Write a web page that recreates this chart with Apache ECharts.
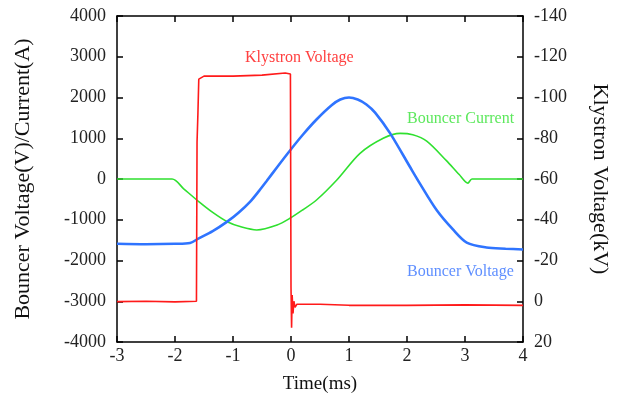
<!DOCTYPE html>
<html>
<head>
<meta charset="utf-8">
<script src="https://cdn.jsdelivr.net/npm/echarts@6/dist/echarts.min.js"></script>
<style>
  html, body { margin: 0; padding: 0; background: #fff; }
  #main { width: 621px; height: 403px; }
</style>
</head>
<body>
<div id="main"></div>
<script>
// Bouncer voltage (V), [time ms, value]
var bouncerVoltage = [
  [-3, -1590], [-2.5, -1600], [-2, -1590], [-1.74, -1570], [-1.59, -1456],
  [-1.35, -1280], [-1.1, -1047], [-0.9, -820], [-0.707, -560], [-0.55, -290],
  [-0.42, -50], [-0.24, 290], [-0.017, 700], [0.2, 1080], [0.44, 1460],
  [0.7, 1810], [0.85, 1950], [1.0, 2000], [1.15, 1950], [1.3, 1830],
  [1.45, 1630], [1.71, 1120], [2.05, 300], [2.22, -106], [2.51, -760],
  [2.8, -1250], [3.03, -1560], [3.37, -1680], [3.7, -1710], [4, -1730]
];

// Bouncer current (A), [time ms, value]
var bouncerCurrent = [
  [-3, 0], [-2.05, 0], [-1.85, -240], [-1.59, -555], [-1.35, -820],
  [-1.1, -1047], [-0.85, -1180], [-0.59, -1250], [-0.24, -1130],
  [-0.017, -964], [0.2, -760], [0.44, -515], [0.79, -24], [1.19, 630],
  [1.59, 1000], [1.88, 1120], [2.1, 1085], [2.34, 930], [2.68, 450],
  [2.9, 110], [3.05, -100], [3.12, 0], [4, 0]
];

// Klystron voltage (kV), [time ms, value]
var klystronVoltage = [
  [-3, 0.2], [-2.5, 0], [-2, 0.3], [-1.63, 0], [-1.62, -78], [-1.605, -92],
  [-1.59, -109], [-1.5, -110.5], [-1, -110.5], [-0.5, -111], [-0.1, -112],
  [-0.01, -111.5], [0.0, -7], [0.01, 13], [0.02, -3], [0.035, 6],
  [0.05, 0], [0.07, 3], [0.1, 1.5], [0.5, 1.5], [1, 2], [2, 2],
  [3, 1.8], [4, 2]
];

var serif = 'Liberation Serif';
var chart = echarts.init(document.getElementById('main'));

var axisLine = { show: true, onZero: false, lineStyle: { color: '#000', width: 1.5 } };
var axisTick = { show: true, inside: true, length: 6, lineStyle: { color: '#000', width: 1.5 } };
var tickFont = { fontFamily: serif, fontSize: 18, color: '#222' };

var option = {
  backgroundColor: '#fff',
  animation: false,
  grid: { left: 117, right: 98, top: 16, bottom: 61 },
  xAxis: [
    {
      type: 'value', min: -3, max: 4, interval: 1,
      name: 'Time(ms)', nameLocation: 'middle', nameGap: 33,
      nameTextStyle: { fontFamily: serif, fontSize: 19, color: '#111' },
      axisLine: axisLine, axisTick: axisTick, splitLine: { show: false },
      axisLabel: Object.assign({ margin: 5 }, tickFont)
    },
    {
      type: 'value', min: -3, max: 4, interval: 1, position: 'top',
      axisLine: axisLine, axisTick: axisTick, splitLine: { show: false },
      axisLabel: { show: false }
    }
  ],
  yAxis: [
    {
      type: 'value', min: -4000, max: 4000, interval: 1000,
      name: 'Bouncer Voltage(V)/Current(A)', nameLocation: 'middle', nameGap: 83,
      nameTextStyle: { fontFamily: serif, fontSize: 22, color: '#111' },
      axisLine: axisLine, axisTick: axisTick, splitLine: { show: false },
      axisLabel: Object.assign({ margin: 11, formatter: function (v) { return String(v); } }, tickFont)
    },
    {
      type: 'value', min: -140, max: 20, interval: 20, inverse: true, position: 'right',
      name: 'Klystron Voltage(kV)', nameLocation: 'middle', nameGap: 66, nameRotate: -90,
      nameTextStyle: { fontFamily: serif, fontSize: 22, color: '#111' },
      axisLine: axisLine, axisTick: axisTick, splitLine: { show: false },
      axisLabel: Object.assign({ margin: 11 }, tickFont)
    }
  ],
  series: [
    {
      name: 'Bouncer Current', type: 'line', xAxisIndex: 0, yAxisIndex: 0,
      data: bouncerCurrent, showSymbol: false, smooth: 0.3,
      lineStyle: { color: '#2fe02f', width: 1.6 }
    },
    {
      name: 'Bouncer Voltage', type: 'line', xAxisIndex: 0, yAxisIndex: 0,
      data: bouncerVoltage, showSymbol: false, smooth: 0.3,
      lineStyle: { color: '#2f74ff', width: 2.6 }
    },
    {
      name: 'Klystron Voltage', type: 'line', xAxisIndex: 0, yAxisIndex: 1,
      data: klystronVoltage, showSymbol: false,
      lineStyle: { color: '#ff1a1a', width: 1.6 }
    }
  ],
  graphic: [
    { type: 'text', left: 245, top: 50, style: { text: 'Klystron Voltage', fill: '#ff4040', font: '16px "Liberation Serif"' } },
    { type: 'text', left: 407, top: 111, style: { text: 'Bouncer Current', fill: '#5de85d', font: '16px "Liberation Serif"' } },
    { type: 'text', left: 407, top: 264, style: { text: 'Bouncer Voltage', fill: '#5f8fff', font: '16px "Liberation Serif"' } }
  ]
};
chart.setOption(option);
</script>
</body>
</html>
